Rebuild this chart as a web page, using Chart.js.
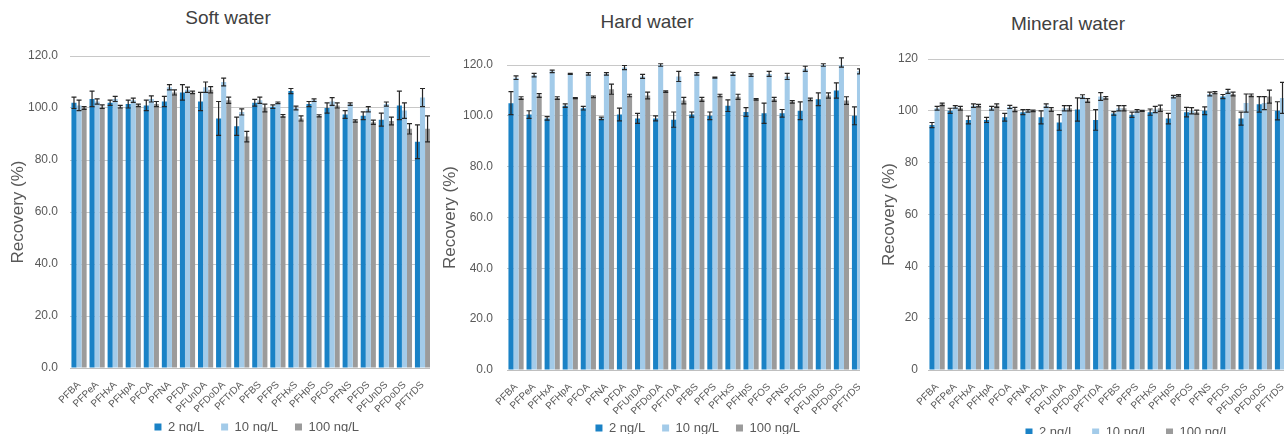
<!DOCTYPE html>
<html>
<head>
<meta charset="utf-8">
<script src="https://cdn.jsdelivr.net/npm/chart.js@4.4.1/dist/chart.umd.min.js"></script>
<style>
  body { margin: 0; background: #fff; width: 1284px; height: 440px; overflow: hidden; position: relative; font-family: 'Liberation Sans', Arial, sans-serif; }
  .panel { position: absolute; top: 0; height: 440px; overflow: hidden; }
  .panel canvas { position: absolute; top: 0; left: 0; }
  .title { position: absolute; transform: translate(-50%, -50%); font-size: 19px; color: #404040; white-space: nowrap; }
</style>
</head>
<body>
<div class="title" style="left:228px;top:18px">Soft water</div>
<div class="title" style="left:647px;top:22px">Hard water</div>
<div class="title" style="left:1068px;top:24px">Mineral water</div>
<div class="panel" style="left:0;width:430px"><canvas id="softChart" width="434" height="440"></canvas></div>
<div class="panel" style="left:430px;width:430px"><canvas id="hardChart" width="441" height="440"></canvas></div>
<div class="panel" style="left:860px;width:424px"><canvas id="mineralChart" width="434" height="440"></canvas></div>
<script>
const labels = [
  'PFBA', 'PFPeA', 'PFHxA', 'PFHpA', 'PFOA', 'PFNA', 'PFDA', 'PFUnDA', 'PFDoDA', 'PFTrDA',
  'PFBS', 'PFPS', 'PFHxS', 'PFHpS', 'PFOS', 'PFNS', 'PFDS', 'PFUnDS', 'PFDoDS', 'PFTrDS',
];
const seriesNames = ['2 ng/L', '10 ng/L', '100 ng/L'];
const yTicks = [0, 20, 40, 60, 80, 100, 120];

// soft water
const soft2 = [102, 103.5, 102, 101.5, 101, 102.5, 106, 102.5, 96, 93, 102, 100.5, 106.5, 101.5, 100, 97.5, 97, 95.5, 101, 87];
const soft2Err = [2.2, 3, 1, 1.5, 2, 2, 3, 3.5, 6.5, 3.5, 1.3, 0.7, 1, 1, 2, 1.5, 1.5, 2.5, 5.5, 6.5];
const soft10 = [101, 102.5, 103.5, 103, 103.5, 108, 107, 108, 110, 98.5, 103, 102, 100, 103, 102.5, 101.5, 99.5, 101.5, 99, 104];
const soft10Err = [2, 1, 1, 0.8, 1.2, 1, 1, 2, 1.5, 1.2, 1.2, 0.3, 0.7, 0.5, 1.5, 0.5, 1, 0.8, 3, 3.5];
const soft100 = [100, 100.5, 100.5, 101, 101.5, 106, 106, 107, 103, 89, 100, 97, 96, 97, 101, 95, 94.5, 95, 92, 92];
const soft100Err = [0.5, 0.7, 0.5, 0.5, 1, 1, 0.5, 1.2, 1.2, 2, 1.5, 0.5, 1, 0.4, 1, 0.4, 0.8, 1.5, 2, 5];

// hard water
const hard2 = [105, 100.5, 99, 104, 103, 99, 100.5, 99, 99, 98.5, 100.5, 100, 104, 101.5, 101, 101, 102, 106.5, 110, 100];
const hard2Err = [4.5, 1.5, 0.7, 0.7, 0.7, 0.5, 2.5, 2, 1, 3, 1, 1.5, 2.3, 1.7, 4, 1.5, 3.5, 2.5, 3, 3.5];
const hard10 = [115, 116, 117.5, 116.5, 116.5, 116.5, 119, 115.5, 120, 115.5, 116.5, 115, 116.5, 116, 116.5, 115.5, 118.5, 120, 121, 117.5];
const hard10Err = [0.7, 0.7, 0.5, 0.2, 0.5, 0.5, 0.8, 0.8, 0.5, 2, 0.5, 0.2, 0.6, 0.5, 1, 1.2, 1, 0.5, 1.8, 1];
const hard100 = [107, 108, 107, 107, 107.5, 110.5, 108, 108, 109.5, 106, 106.5, 108, 107.5, 106.5, 106.5, 105.5, 106.5, 108, 106, 101];
const hard100Err = [0.5, 0.7, 0.5, 0.2, 0.3, 2, 0.5, 1.3, 0.3, 1.3, 0.8, 0.5, 1, 0.3, 0.8, 0.5, 0.5, 1, 1.5, 2];

// mineral water
const mineral2 = [94.5, 100, 96.5, 96.5, 97.5, 99.5, 97.5, 95.5, 100.5, 96.5, 99, 98.5, 99.5, 97, 99.5, 100, 105.5, 97, 102.5, 100];
const mineral2Err = [1, 1, 1.5, 1, 1.5, 1, 2.5, 3, 4.5, 4, 0.7, 1, 1.2, 2, 1.8, 1.5, 0.8, 2.5, 3, 3.5];
const mineral10 = [101, 101.5, 102, 101, 101.5, 100, 102, 101, 105.5, 105.5, 101, 100, 100.5, 105.5, 100, 106.5, 107.5, 103, 103, 105];
const mineral10Err = [0.7, 0.5, 0.7, 0.7, 0.6, 0.5, 0.7, 1, 0.7, 1.5, 1, 0.5, 1.2, 0.5, 1.2, 0.7, 0.8, 3.5, 2.5, 6];
const mineral100 = [102.5, 101, 102, 102, 100.5, 100, 100.5, 101, 104, 105, 101, 100, 101, 106, 99.5, 107, 106.5, 106, 105.5, 104];
const mineral100Err = [0.5, 0.7, 0.5, 0.7, 0.8, 0.3, 0.7, 1, 0.7, 0.5, 1, 0.2, 1.2, 0.3, 0.8, 0.4, 0.7, 0.5, 2.5, 1];

const colors = ['#1a82c6', '#a3cbe9', '#9b9b9b'];
const textColor = '#595959';
const legendPad = 17;

Chart.defaults.font.family = "'Liberation Sans', Arial, sans-serif";
Chart.defaults.color = textColor;

// draws +/- error bars on top of every bar, using the y scale
const errorBars = {
  id: 'errorBars',
  afterDatasetsDraw(chart) {
    const ctx = chart.ctx;
    const y = chart.scales.y;
    ctx.save();
    ctx.strokeStyle = '#262626';
    ctx.lineWidth = 1.2;
    chart.data.datasets.forEach((ds, i) => {
      chart.getDatasetMeta(i).data.forEach((bar, j) => {
        const top = y.getPixelForValue(ds.data[j] + ds.errors[j]);
        const bot = y.getPixelForValue(ds.data[j] - ds.errors[j]);
        ctx.beginPath();
        ctx.moveTo(bar.x, top); ctx.lineTo(bar.x, bot);
        ctx.moveTo(bar.x - 2.5, top); ctx.lineTo(bar.x + 2.5, top);
        ctx.moveTo(bar.x - 2.5, bot); ctx.lineTo(bar.x + 2.5, bot);
        ctx.stroke();
      });
    });
    ctx.restore();
  }
};

// put the legend row where the original has it, not where chart.js packs it
const legendShift = {
  id: 'legendShift',
  beforeDraw(chart, args, opts) {
    const lg = chart.legend;
    lg.top = opts.y - legendPad - 6.5;
    lg.left = chart.chartArea.left + opts.dx;
    lg.right = chart.chartArea.right + opts.dx;
  }
};

const makeChart = function(id, values, errors, p) {
  const datasets = seriesNames.map((name, i) => ({
    label: name,
    data: values[i],
    errors: errors[i],
    backgroundColor: colors[i],
    borderWidth: 0,
    barPercentage: 1,
    categoryPercentage: 0.84,
  }));
  return new Chart(document.getElementById(id), {
    type: 'bar',
    data: { labels: labels, datasets: datasets },
    plugins: [errorBars, legendShift],
    options: {
      responsive: false,
      animation: false,
      layout: { padding: { top: p.top, bottom: p.bottom, left: 0, right: 0 } },
      plugins: {
        tooltip: { enabled: false },
        legendShift: { y: p.legendY, dx: p.legendDx },
        legend: {
          position: 'bottom',
          fullSize: false,
          maxHeight: 20,
          labels: { boxWidth: 7, boxHeight: 7, padding: legendPad, color: textColor, font: { size: 13 } }
        }
      },
      scales: {
        x: {
          grid: { display: false },
          border: { color: '#bfbfbf' },
          ticks: { autoSkip: false, minRotation: 45, maxRotation: 45, padding: 3, color: textColor, font: { size: 10 } },
          afterFit: (s) => { s.height = 44; }
        },
        y: {
          min: 0,
          max: 120,
          afterBuildTicks: (s) => { s.ticks = yTicks.map(v => ({ value: v })); },
          grid: { color: '#c8c8c8', drawTicks: false },
          border: { display: false },
          ticks: {
            padding: p.tickPad,
            color: textColor,
            font: { size: p.tickSize },
            callback: (v) => p.decimals ? v.toFixed(1) : String(v)
          },
          title: { display: true, text: 'Recovery (%)', color: textColor, font: { size: 17 }, padding: { top: p.titlePad, bottom: 0 } },
          afterFit: (s) => { s.width = p.yWidth; }
        }
      }
    }
  });
}

makeChart('softChart', [soft2, soft10, soft100], [soft2Err, soft10Err, soft100Err],
  { top: 56, bottom: 8, yWidth: 70, tickPad: 12, tickSize: 12, titlePad: 8, decimals: true, legendY: 427, legendDx: 6 });
makeChart('hardChart', [hard2, hard10, hard100], [hard2Err, hard10Err, hard100Err],
  { top: 65, bottom: 6, yWidth: 77, tickPad: 14, tickSize: 12, titlePad: 10, decimals: true, legendY: 428, legendDx: 10 });
makeChart('mineralChart', [mineral2, mineral10, mineral100], [mineral2Err, mineral10Err, mineral100Err],
  { top: 59, bottom: 6, yWidth: 68, tickPad: 10, tickSize: 12, titlePad: 19, decimals: false, legendY: 432, legendDx: 18 });
</script>
</body>
</html>
